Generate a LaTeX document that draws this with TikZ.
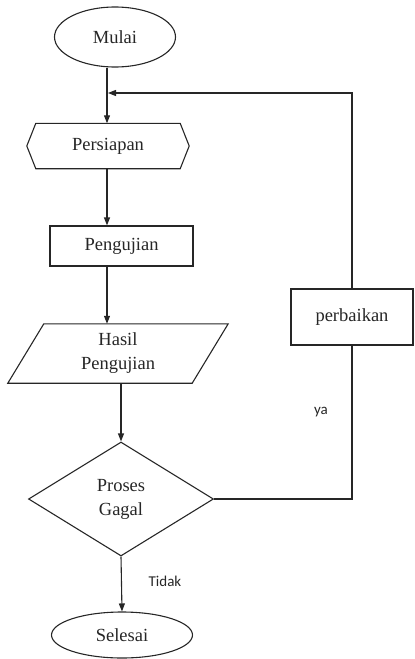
\documentclass[tikz,border=0pt]{standalone}
\usepackage{fontspec}
\setmainfont{Liberation Serif}
\newfontfamily\nodefont{Liberation Serif}
\newfontfamily\labelfont{Carlito}
\usetikzlibrary{shapes.geometric,arrows.meta}
\begin{document}
\begin{tikzpicture}[x=1pt,y=-1pt,
  line/.style={draw=black!85, line width=1.1pt},
  arr/.style={line, -{Triangle[length=8pt,width=6pt]}},
  txt/.style={font=\nodefont\fontsize{18.5}{24}\selectfont, align=center, inner sep=0pt, text=black!85},
  lbl/.style={font=\labelfont\fontsize{15}{18}\selectfont, inner sep=0pt, text=black!85}]
\useasboundingbox (0,0) rectangle (415,659);
% nodes
\node[ellipse, line, txt, minimum width=121pt, minimum height=60pt] (mulai) at (115,37) {Mulai};
\node[txt, minimum width=162pt, minimum height=45pt] (persiapan) at (108,146) {Persiapan};
\draw[line] (persiapan.west) -- ([xshift=9pt]persiapan.north west) -- ([xshift=-9pt]persiapan.north east)
  -- (persiapan.east) -- ([xshift=-9pt]persiapan.south east) -- ([xshift=9pt]persiapan.south west) -- cycle;
\node[rectangle, line, txt, minimum width=143pt, minimum height=40pt] (pengujian) at (121.5,246) {Pengujian};
\node[txt, minimum width=184pt, minimum height=59pt] (hasil) at (118,353.5) {Hasil\\Pengujian};
\draw[line] ([xshift=18pt]hasil.north west) -- ([xshift=18pt]hasil.north east)
  -- ([xshift=-18pt]hasil.south east) -- ([xshift=-18pt]hasil.south west) -- cycle;
\node[diamond, line, txt, minimum width=185pt, minimum height=114pt] (gagal) at (121,499) {Proses\\Gagal};
\node[rectangle, line, txt, minimum width=122pt, minimum height=56pt] (perbaikan) at (352,317) {perbaikan};
\node[ellipse, line, txt, minimum width=141pt, minimum height=46pt] (selesai) at (122,635) {Selesai};
% coordinates
\coordinate (trunk) at (107,0);
\coordinate (join) at (108,93);
% connectors
\draw[arr] (mulai.south -| trunk) -- (persiapan.north -| trunk);
\draw[arr] (persiapan.south -| trunk) -- (pengujian.north -| trunk);
\draw[arr] (pengujian.south -| trunk) -- (hasil.north -| trunk);
\draw[arr] (hasil.south -| gagal.north) -- (gagal.north);
\draw[line] (gagal.east) -| (perbaikan.south);
\draw[arr] (perbaikan.north) |- (join);
\draw[arr] (gagal.south) -- (selesai.north);
% labels
\node[lbl] (ya) at (321,412) {ya};
\node[lbl] (tidak) at (165,581) {Tidak};
\end{tikzpicture}
\end{document}
